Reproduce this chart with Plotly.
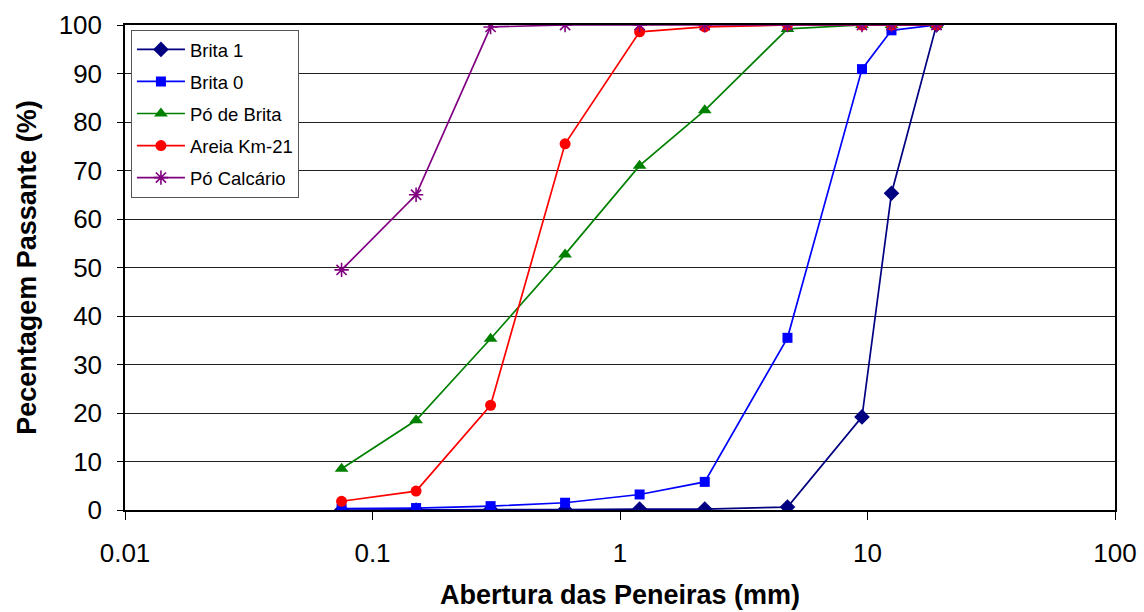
import plotly.graph_objects as go

sieves = [0.075, 0.15, 0.3, 0.6, 1.2, 2.2, 4.75, 9.5, 12.5, 19]

brita1 = [0.0, 0.0, 0.1, 0.1, 0.2, 0.2, 0.6, 19.2, 65.3, 100]
brita0 = [0.3, 0.4, 0.8, 1.5, 3.2, 5.8, 35.5, 90.9, 98.9, 100]
po_brita = [8.5, 18.5, 35.3, 52.7, 71.0, 82.4, 99.2, 100, 100, 100]
areia = [1.8, 3.9, 21.6, 75.5, 98.6, 99.6, 100, 100, 100, 100]
po_calc = [49.5, 65.0, 99.6, 100, 100, 100, 100, 100, 100, 100]

x_ticks = [0.01, 0.1, 1, 10, 100]
x_tick_labels = ["0.01", "0.1", "1", "10", "100"]
y_ticks = list(range(0, 101, 10))

series = [
    ("Brita 1", brita1, "#000080", "diamond", 12),
    ("Brita 0", brita0, "#0000FF", "square", 10),
    ("Pó de Brita", po_brita, "#008000", "triangle-up", 12),
    ("Areia Km-21", areia, "#FF0000", "circle", 11),
    ("Pó Calcário", po_calc, "#800080", "asterisk-open", 12),
]

fig = go.Figure()
for i, (name, vals, color, sym, size) in enumerate(series):
    marker = dict(symbol=sym, size=size, color=color)
    if sym == "asterisk-open":
        marker["line"] = dict(color=color, width=1.6)
    fig.add_trace(go.Scatter(
        x=sieves, y=vals, name=name, mode="lines+markers",
        line=dict(color=color, width=1.7), marker=marker,
        legendgroup=f"g{i}",
    ))

font_family = "Liberation Sans, Arial, sans-serif"

fig.update_layout(
    width=1144, height=612,
    margin=dict(l=125, r=29, t=25, b=102),
    paper_bgcolor="white", plot_bgcolor="white",
    font=dict(family=font_family, color="black", size=26),
    showlegend=True,
    legend=dict(
        x=0.006, y=0.99, xanchor="left", yanchor="top",
        bgcolor="white", bordercolor="#555555", borderwidth=1,
        font=dict(size=18.5, family=font_family, color="black"),
        traceorder="grouped", tracegroupgap=5, itemwidth=48,
    ),
    xaxis=dict(
        type="log", range=[-2, 2], automargin=False,
        tickvals=x_ticks, ticktext=x_tick_labels,
        ticks="outside", ticklen=8, tickcolor="black",
        showgrid=False, zeroline=False,
        showline=True, linecolor="black", linewidth=1.5, mirror=True,
        tickfont=dict(size=26), ticklabelstandoff=11,
        title=dict(text="<b>Abertura das Peneiras (mm)</b>",
                   font=dict(size=27), standoff=18),
    ),
    yaxis=dict(
        range=[0, 100], tickvals=y_ticks, automargin=False,
        ticks="outside", ticklen=6, tickcolor="black",
        showgrid=True, gridcolor="#222222", gridwidth=1,
        zeroline=False,
        showline=True, linecolor="black", linewidth=1.5, mirror=True,
        tickfont=dict(size=26), ticklabelstandoff=10,
        title=dict(text="<b>Pecentagem Passante (%)</b>",
                   font=dict(size=27), standoff=14),
    ),
)

fig.write_html("out.html")
